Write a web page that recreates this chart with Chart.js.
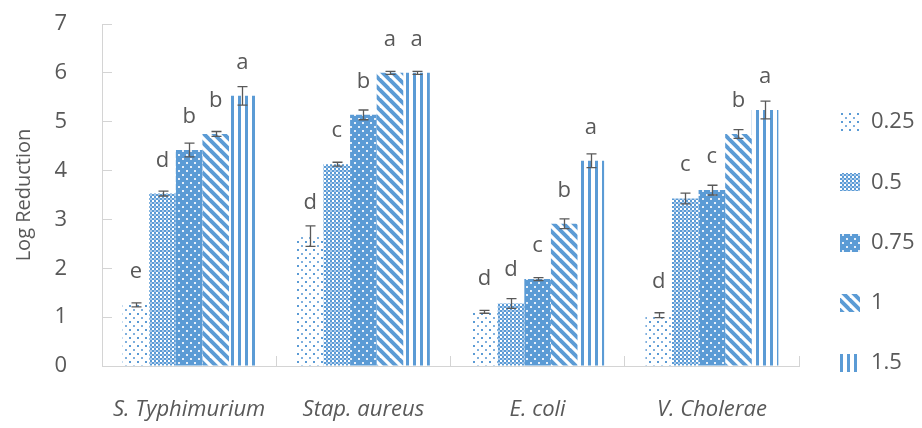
<!DOCTYPE html>
<html>
<head>
<meta charset="utf-8">
<script src="https://cdn.jsdelivr.net/npm/chart.js@4.4.1/dist/chart.umd.min.js"></script>
<style>
  html, body { margin: 0; padding: 0; background: #ffffff; }
  #wrap { width: 922px; height: 428px; }
</style>
</head>
<body>
<div id="wrap"><canvas id="logChart" width="922" height="428"></canvas></div>
<script>
// data
const categories = ["S. Typhimurium", "Stap. aureus", "E. coli", "V. Cholerae"];
const doseLabels = ["0.25", "0.5", "0.75", "1", "1.5"];

const dose025 = [1.25, 2.66, 1.11, 1.04];
const dose05  = [3.53, 4.13, 1.28, 3.43];
const dose075 = [4.42, 5.14, 1.78, 3.60];
const dose1   = [4.75, 6.00, 2.91, 4.75];
const dose15  = [5.53, 6.00, 4.20, 5.24];

const err025 = [0.04, 0.21, 0.03, 0.05];
const err05  = [0.05, 0.04, 0.10, 0.11];
const err075 = [0.14, 0.10, 0.03, 0.10];
const err1   = [0.05, 0.03, 0.10, 0.09];
const err15  = [0.19, 0.03, 0.14, 0.18];

const letters025 = ["e", "d", "d", "d"];
const letters05  = ["d", "c", "d", "c"];
const letters075 = ["b", "b", "c", "c"];
const letters1   = ["b", "a", "b", "b"];
const letters15  = ["a", "a", "a", "a"];

const yTicks = [0, 1, 2, 3, 4, 5, 6, 7];

const BLUE = "#5B9BD5";
const TEXT = "#595959";
const AXIS = "#d4d4d4";
const FONT = "'Open Sans', 'Noto Sans', sans-serif";

const canvas = document.getElementById("logChart");
const ctx = canvas.getContext("2d");

function makePattern(w, h, draw) {
    const tile = document.createElement("canvas");
    tile.width = w;
    tile.height = h;
    const g = tile.getContext("2d");
    draw(g, w, h);
    return ctx.createPattern(tile, "repeat");
}

// sparse dots
const pat025 = makePattern(8, 8, function (g) {
    g.fillStyle = "#ffffff";
    g.fillRect(0, 0, 8, 8);
    g.fillStyle = BLUE;
    g.fillRect(1, 1, 2, 2);
    g.fillStyle = "#7fb0de";
    g.fillRect(5, 5, 2, 2);
});

// dense checker
const pat05 = makePattern(4, 4, function (g) {
    g.fillStyle = BLUE;
    g.fillRect(0, 0, 4, 4);
    g.fillStyle = "#ffffff";
    g.fillRect(0, 0, 2, 2);
    g.fillStyle = "#a9c9ea";
    g.fillRect(2, 2, 2, 2);
});

// solid with white dots
const pat075 = makePattern(8, 8, function (g) {
    g.fillStyle = BLUE;
    g.fillRect(0, 0, 8, 8);
    g.fillStyle = "#e6eff9";
    g.fillRect(2, 2, 2, 2);
    g.fillRect(6, 6, 2, 2);
});

// wide downward diagonal
const pat1 = makePattern(10, 10, function (g) {
    g.fillStyle = "#ffffff";
    g.fillRect(0, 0, 10, 10);
    g.strokeStyle = BLUE;
    g.lineWidth = 3.9;
    [-10, 0, 10].forEach(function (o) {
        g.beginPath();
        g.moveTo(o - 2, -2);
        g.lineTo(o + 12, 12);
        g.stroke();
    });
});

// vertical lines
const pat15 = makePattern(7, 4, function (g) {
    g.fillStyle = "#ffffff";
    g.fillRect(0, 0, 7, 4);
    g.fillStyle = BLUE;
    g.fillRect(0, 0, 3, 4);
});

const seriesValues = [dose025, dose05, dose075, dose1, dose15];
const seriesErrors = [err025, err05, err075, err1, err15];
const seriesLetters = [letters025, letters05, letters075, letters1, letters15];
const seriesFills = [pat025, pat05, pat075, pat1, pat15];

const errorBarsPlugin = {
    id: "errorBars",
    afterDatasetsDraw(chart) {
        const c = chart.ctx;
        const y = chart.scales.y;
        c.save();
        chart.data.datasets.forEach(function (ds, i) {
            const meta = chart.getDatasetMeta(i);
            meta.data.forEach(function (bar, j) {
                const v = ds.data[j];
                const e = seriesErrors[i][j];
                const yTop = y.getPixelForValue(v + e);
                const yBot = y.getPixelForValue(v - e);
                const x = Math.round(bar.x) + 0.5;
                c.strokeStyle = TEXT;
                c.lineWidth = 1.3;
                c.beginPath();
                c.moveTo(x, yTop);
                c.lineTo(x, yBot);
                c.moveTo(x - 5, yTop);
                c.lineTo(x + 5, yTop);
                c.moveTo(x - 5, yBot);
                c.lineTo(x + 5, yBot);
                c.stroke();

                c.fillStyle = TEXT;
                c.font = "22px " + FONT;
                c.textAlign = "center";
                c.textBaseline = "alphabetic";
                c.fillText(seriesLetters[i][j], bar.x, y.getPixelForValue(v) - 27);
            });
        });
        c.restore();
    }
};

const sideLegendPlugin = {
    id: "sideLegend",
    afterDraw(chart) {
        const c = chart.ctx;
        c.save();
        chart.data.datasets.forEach(function (ds, i) {
            const cy = 122 + i * 60.3;
            c.fillStyle = ds.backgroundColor;
            c.fillRect(840, Math.round(cy - 9), 20, 18);
            c.fillStyle = TEXT;
            c.font = "22px " + FONT;
            c.textAlign = "left";
            c.textBaseline = "middle";
            c.fillText(ds.label, 871, cy);
        });
        c.restore();
    }
};

new Chart(canvas, {
    type: "bar",
    data: {
        labels: categories,
        datasets: doseLabels.map(function (lbl, i) {
            return {
                label: lbl,
                data: seriesValues[i],
                backgroundColor: seriesFills[i],
                borderWidth: 0,
                categoryPercentage: 0.763,
                barPercentage: 1.0
            };
        })
    },
    options: {
        responsive: false,
        devicePixelRatio: 1,
        animation: false,
        layout: {
            padding: { top: 24, right: 123, bottom: 0, left: 0 }
        },
        plugins: {
            legend: { display: false },
            tooltip: { enabled: false }
        },
        scales: {
            x: {
                offset: true,
                grid: {
                    offset: true,
                    drawOnChartArea: false,
                    drawTicks: true,
                    tickLength: -10,
                    color: AXIS
                },
                border: { color: AXIS, width: 1 },
                ticks: {
                    padding: 41,
                    autoSkip: false,
                    maxRotation: 0,
                    color: TEXT,
                    font: { family: FONT, size: 22, style: "italic" }
                },
                afterFit: function (scale) {
                    scale.height = 62;
                }
            },
            y: {
                min: yTicks[0],
                max: yTicks[yTicks.length - 1],
                afterBuildTicks: function (scale) {
                    scale.ticks = yTicks.map(function (v) { return { value: v }; });
                },
                grid: {
                    drawOnChartArea: false,
                    drawTicks: true,
                    tickLength: -10,
                    color: AXIS
                },
                border: { color: AXIS, width: 1 },
                ticks: {
                    padding: 45,
                    color: TEXT,
                    font: { family: FONT, size: 22 }
                },
                title: {
                    display: true,
                    text: "Log Reduction",
                    color: TEXT,
                    font: { family: FONT, size: 20 },
                    padding: { top: 12, bottom: 0 }
                },
                afterFit: function (scale) {
                    scale.width = 102;
                    // the large label padding should not push the plot down
                    scale.paddingTop = 14;
                    scale.paddingBottom = 14;
                }
            }
        }
    },
    plugins: [errorBarsPlugin, sideLegendPlugin]
});
</script>
</body>
</html>
